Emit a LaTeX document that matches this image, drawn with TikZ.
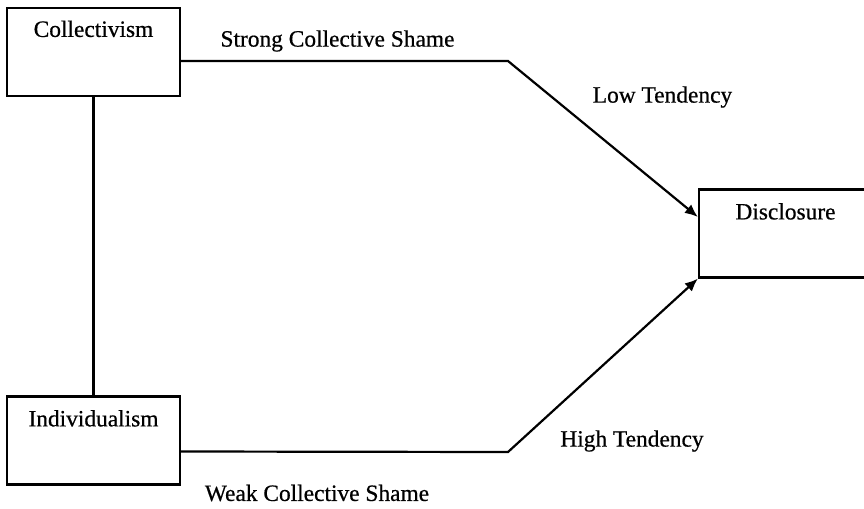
\documentclass[tikz,border=0pt]{standalone}
\usepackage{fontspec}
\setmainfont[FakeBold=0.6]{Liberation Serif}
\usetikzlibrary{arrows.meta}
\begin{document}
\begin{tikzpicture}[x=0.5pt,y=-0.5pt,
    box/.style={draw,line width=1.1pt,minimum width=86.5pt,minimum height=44pt,inner sep=0pt},
    txt/.style={font=\fontsize{11.7}{13}\selectfont,inner sep=0pt},
    link/.style={line width=1.1pt}]
  \useasboundingbox (0,0) rectangle (864,509);
  \node[box] (coll) at (93.5,52) {};
  \node[box] (indiv) at (93.5,440.5) {};
  \node[box] (discl) at (785.5,233.5) {};
  \node[txt] (colltxt) at ([yshift=-11pt]coll.north) {Collectivism};
  \node[txt] (indivtxt) at ([yshift=-11.5pt]indiv.north) {Individualism};
  \node[txt] (discltxt) at ([yshift=-11.5pt]discl.north) {Disclosure};
  \coordinate (bendA) at (508,61);
  \coordinate (bendB) at (508,452);
  \draw[link] (coll.south) -- (indiv.north);
  \draw[link,-{Latex[length=6.5pt,width=5.5pt]}] ([yshift=-4.5pt]coll.east) -- (bendA) -- ([yshift=8.25pt]discl.west);
  \draw[link,-{Latex[length=6.5pt,width=5.5pt]}] ([yshift=-5.5pt]indiv.east) -- (bendB) -- (discl.south west);
  \node[txt] (strong) at (337.5,41) {Strong Collective Shame};
  \node[txt] (low) at (662.5,97) {Low Tendency};
  \node[txt] (high) at (632,441) {High Tendency};
  \node[txt] (weak) at (317,493) {Weak Collective Shame};
\end{tikzpicture}
\end{document}
